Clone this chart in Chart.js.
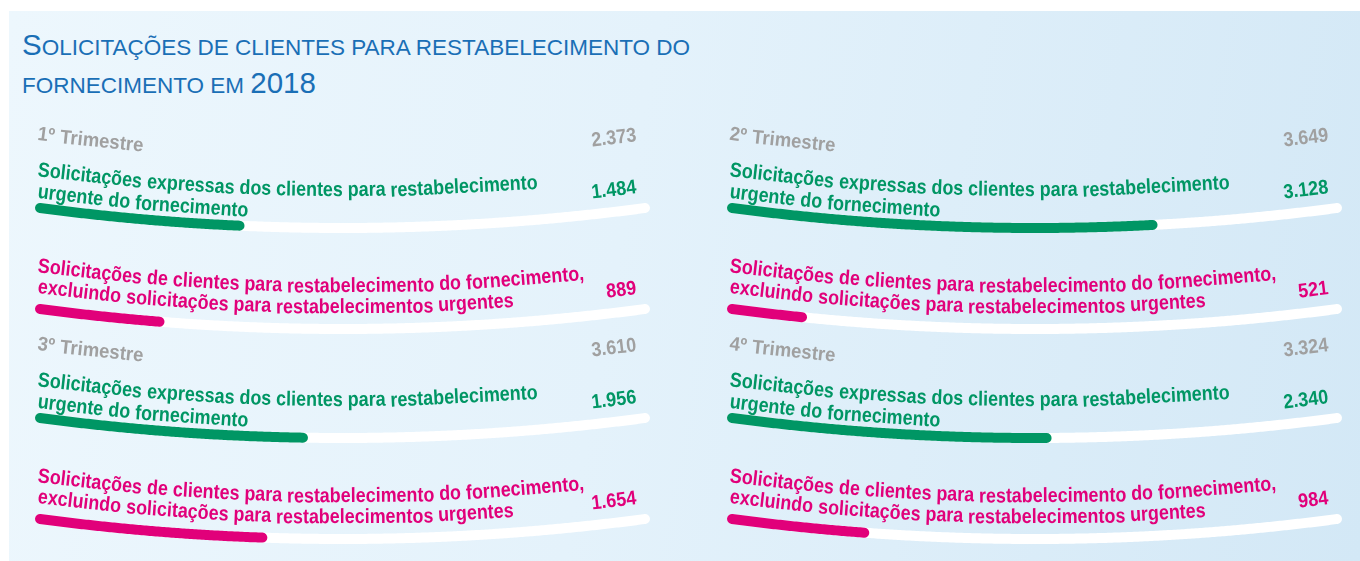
<!DOCTYPE html>
<html><head><meta charset="utf-8">
<script src="https://cdn.jsdelivr.net/npm/chart.js@4.4.1/dist/chart.umd.min.js"></script>
<style>
html,body{margin:0;padding:0;background:#fff;width:1360px;height:561px;overflow:hidden;position:relative;}
#panel{position:absolute;left:9px;top:11px;width:1351px;height:550px;background:linear-gradient(100deg,#edf7fd 0%,#e4f2fb 45%,#d3e8f6 100%);}
#title{position:absolute;left:22px;top:26px;color:#1a6fb6;font-family:'Liberation Sans',Arial,sans-serif;font-size:29.5px;line-height:38px;white-space:nowrap;transform-origin:0 0;}
#title .sc{font-size:22.5px;text-transform:uppercase;line-height:20px;}
canvas{position:absolute;}
</style></head><body>
<div id="panel"></div>
<div id="title"><span id="t1">S<span class="sc">olicitações de clientes para restabelecimento do</span></span><br><span id="t2"><span class="sc">fornecimento em </span>2018</span></div>
<canvas id="c0"></canvas><canvas id="c1"></canvas><canvas id="c2"></canvas><canvas id="c3"></canvas>
<script>
const quarters = ['1º Trimestre', '2º Trimestre', '3º Trimestre', '4º Trimestre'];
const totals = [2373, 3649, 3610, 3324];
const urgent = [1484, 3128, 1956, 2340];
const nonUrgent = [889, 521, 1654, 984];
const rowLabels = [
  ['Solicitações expressas dos clientes para restabelecimento', 'urgente do fornecimento'],
  ['Solicitações de clientes para restabelecimento do fornecimento,', 'excluindo solicitações para restabelecimentos urgentes']
];
const scaleMax = 4500;

const GREEN = '#009664', PINK = '#e1007a', GRAY = '#a0a0a0';
const rowColors = [GREEN, PINK];
const FONT = "'Liberation Sans',Arial,sans-serif";
const SAG = 20;
const fmt = v => String(v).replace(/\B(?=(\d{3})+(?!\d))/g, '.');

(function(){
  const t1 = document.getElementById('t1');
  const w = t1.getBoundingClientRect().width;
  document.getElementById('title').style.transform = 'scaleX(' + (668 / w).toFixed(4) + ')';
})();

const mctx = document.createElement('canvas').getContext('2d');
function fitScale(text, size, target) {
  mctx.font = 'bold ' + size + 'px ' + FONT;
  return target / mctx.measureText(text).width;
}
const FS_LABEL = 20.5, FS_HEAD = 19.5, FS_VAL = 20;
const sxLabel = fitScale(rowLabels[0][0], FS_LABEL, 501);
const sxHead = fitScale(quarters[0], FS_HEAD, 106);
const sxVal = fitScale('1.484', FS_VAL, 45);

function drawWords(ctx, text, x, align, off, curve, slope, size, sx, color) {
  ctx.font = 'bold ' + size + 'px ' + FONT;
  ctx.fillStyle = color;
  const words = text.split(' ');
  const sp = ctx.measureText(' ').width * sx;
  const ws = words.map(w => ctx.measureText(w).width * sx);
  const total = ws.reduce((s, v) => s + v, 0) + sp * (words.length - 1);
  let cx = align === 'right' ? x - total : x;
  words.forEach((w, i) => {
    const c = cx + ws[i] / 2;
    ctx.save();
    ctx.translate(c, curve(c) + off);
    ctx.rotate(Math.atan(slope(c)));
    ctx.scale(sx, 1);
    ctx.textAlign = 'center';
    ctx.textBaseline = 'alphabetic';
    ctx.fillText(w, 0, 0);
    ctx.restore();
    cx += ws[i] + sp;
  });
}

const curvedBars = {
  id: 'curvedBars',
  beforeDatasetsDraw(chart, args, opts) {
    const ctx = chart.ctx, a = chart.chartArea, q = opts.q;
    const xm = (a.left + a.right) / 2, hw = (a.right - a.left) / 2;
    const slope = x => -2 * SAG * (x - xm) / (hw * hw);
    const meta = chart.getDatasetMeta(0);
    const textL = a.left - 3, textR = a.right - 8;
    function stroke(x1, x2, y0, color, lw) {
      const f = x => y0 + SAG * (1 - Math.pow((x - xm) / hw, 2));
      ctx.save();
      ctx.beginPath();
      ctx.moveTo(x1, f(x1));
      for (let x = x1 + 2; x < x2; x += 2) ctx.lineTo(x, f(x));
      ctx.lineTo(x2, f(x2));
      ctx.strokeStyle = color; ctx.lineWidth = lw; ctx.lineCap = 'round'; ctx.lineJoin = 'round';
      ctx.stroke();
      ctx.restore();
    }
    const offs = [[-32, -10], [-37, -16]];
    meta.data.forEach((bar, j) => {
      const y0 = bar.y;
      const curve = x => y0 + SAG * (1 - Math.pow((x - xm) / hw, 2));
      stroke(a.left, a.right, y0, '#ffffff', 10);
      stroke(bar.base, bar.x, y0, rowColors[j], 10);
      drawWords(ctx, rowLabels[j][0], textL, 'left', offs[j][0], curve, slope, FS_LABEL, sxLabel, rowColors[j]);
      drawWords(ctx, rowLabels[j][1], textL, 'left', offs[j][1], curve, slope, FS_LABEL, sxLabel, rowColors[j]);
      drawWords(ctx, fmt(chart.data.datasets[0].data[j]), textR, 'right', -16, curve, slope, FS_VAL, sxVal, rowColors[j]);
      if (j === 0) {
        drawWords(ctx, quarters[q], textL, 'left', -68, curve, slope, FS_HEAD, sxHead, GRAY);
        drawWords(ctx, fmt(totals[q]), textR, 'right', -68, curve, slope, FS_VAL, sxVal, GRAY);
      }
    });
    return false;
  }
};

const CW = 680, CH = 270;
quarters.forEach((name, q) => {
  const col = q % 2, row = Math.floor(q / 2);
  const cv = document.getElementById('c' + q);
  cv.width = CW; cv.height = CH;
  cv.style.left = (col * 692) + 'px';
  cv.style.top = (100 + row * 210) + 'px';
  cv.style.width = CW + 'px'; cv.style.height = CH + 'px';
  new Chart(cv, {
    type: 'bar',
    data: {
      labels: [rowLabels[0].join(' '), rowLabels[1].join(' ')],
      datasets: [{ label: name, data: [urgent[q], nonUrgent[q]], backgroundColor: rowColors }]
    },
    options: {
      indexAxis: 'y',
      responsive: false,
      animation: false,
      devicePixelRatio: 1,
      layout: { padding: { left: 40, right: CW - 645, top: 57.5, bottom: CH - 259.5 } },
      scales: {
        x: { display: false, min: 0, max: scaleMax },
        y: { display: false }
      },
      plugins: {
        legend: { display: false },
        tooltip: { enabled: false },
        curvedBars: { q: q }
      }
    },
    plugins: [curvedBars]
  });
});
</script>
</body></html>
